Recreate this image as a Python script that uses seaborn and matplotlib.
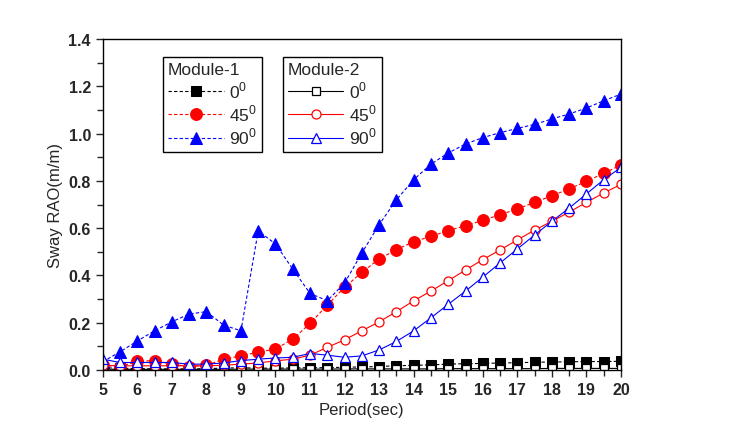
import matplotlib
matplotlib.use("Agg")
import matplotlib.pyplot as plt
import seaborn as sns
import numpy as np
from matplotlib.ticker import MultipleLocator

# Data
period = [5.0, 5.5, 6.0, 6.5, 7.0, 7.5, 8.0, 8.5, 9.0, 9.5, 10.0, 10.5, 11.0, 11.5, 12.0,
          12.5, 13.0, 13.5, 14.0, 14.5, 15.0, 15.5, 16.0, 16.5, 17.0, 17.5, 18.0, 18.5,
          19.0, 19.5, 20.0]

m1_0 = [0.010, 0.008, 0.006, 0.005, 0.005, 0.005, 0.006, 0.008, 0.010, 0.008, 0.008,
        0.009, 0.010, 0.010, 0.012, 0.013, 0.015, 0.018, 0.020, 0.022, 0.025, 0.027,
        0.028, 0.030, 0.031, 0.033, 0.034, 0.035, 0.036, 0.036, 0.037]
m1_45 = [0.020, 0.015, 0.037, 0.040, 0.025, 0.015, 0.020, 0.046, 0.060, 0.076, 0.089,
         0.131, 0.197, 0.275, 0.350, 0.413, 0.470, 0.509, 0.543, 0.565, 0.590, 0.610,
         0.633, 0.657, 0.681, 0.709, 0.737, 0.766, 0.798, 0.832, 0.867]
m1_90 = [0.035, 0.077, 0.123, 0.166, 0.204, 0.237, 0.247, 0.190, 0.166, 0.589, 0.533,
         0.427, 0.324, 0.293, 0.368, 0.495, 0.615, 0.720, 0.805, 0.871, 0.918, 0.956,
         0.983, 1.004, 1.022, 1.039, 1.062, 1.083, 1.108, 1.139, 1.167]

m2_0 = [0.004, 0.003, 0.003, 0.003, 0.003, 0.003, 0.003, 0.003, 0.004, 0.004, 0.004,
        0.004, 0.004, 0.004, 0.005, 0.005, 0.005, 0.005, 0.005, 0.005, 0.006, 0.006,
        0.006, 0.006, 0.006, 0.006, 0.007, 0.007, 0.007, 0.007, 0.007]
m2_45 = [0.020, 0.018, 0.018, 0.018, 0.018, 0.018, 0.018, 0.020, 0.025, 0.030, 0.039,
         0.046, 0.063, 0.096, 0.128, 0.166, 0.204, 0.247, 0.293, 0.334, 0.378, 0.423,
         0.467, 0.508, 0.550, 0.592, 0.629, 0.668, 0.709, 0.749, 0.785]
m2_90 = [0.046, 0.032, 0.032, 0.032, 0.032, 0.025, 0.025, 0.030, 0.040, 0.046, 0.051,
         0.054, 0.070, 0.063, 0.054, 0.060, 0.085, 0.121, 0.166, 0.221, 0.278, 0.334,
         0.393, 0.453, 0.512, 0.571, 0.629, 0.685, 0.745, 0.805, 0.857]

angle_labels = ["0$^0$", "45$^0$", "90$^0$"]

sns.set_style("ticks")
plt.rcParams['font.family'] = ['Liberation Sans', 'DejaVu Sans']
plt.rcParams['mathtext.fontset'] = 'custom'
plt.rcParams['mathtext.rm'] = 'Liberation Sans'

fig = plt.figure(figsize=(7.34, 4.35), dpi=100)
ax = fig.add_axes([0.140, 0.147, 0.706, 0.761])

blue = '#0000ff'
red = '#ff0000'

m1_styles = [(m1_0, 'black', 's', 6.5), (m1_45, red, 'o', 8.5), (m1_90, blue, '^', 8.5)]
m2_styles = [(m2_0, 'black', 's', 6), (m2_45, red, 'o', 6.5), (m2_90, blue, '^', 7)]

# Module-1: filled markers, dashed lines
h1 = []
for (vals, col, mk, ms), lab in zip(m1_styles, angle_labels):
    sns.lineplot(x=period, y=vals, ax=ax, color=col, marker=mk, markersize=ms,
                 linestyle='--', linewidth=0.8, markeredgecolor=col,
                 markerfacecolor=col, dashes=False)
    h1.append(ax.lines[-1])
    ax.lines[-1].set_linestyle((0, (3, 2)))

# Module-2: open markers, solid lines
h2 = []
for (vals, col, mk, ms), lab in zip(m2_styles, angle_labels):
    sns.lineplot(x=period, y=vals, ax=ax, color=col, marker=mk, markersize=ms,
                 linestyle='-', linewidth=0.8, markeredgecolor=col,
                 markerfacecolor='white', markeredgewidth=0.9)
    h2.append(ax.lines[-1])

ax.set_xlim(5, 20)
ax.set_ylim(0, 1.4)
ax.xaxis.set_major_locator(MultipleLocator(1))
ax.xaxis.set_minor_locator(MultipleLocator(0.5))
ax.yaxis.set_major_locator(MultipleLocator(0.2))
ax.yaxis.set_minor_locator(MultipleLocator(0.1))
ax.yaxis.set_major_formatter(matplotlib.ticker.FormatStrFormatter('%.1f'))
ax.tick_params(which='major', direction='out', length=5, width=1, labelsize=11.5)
ax.tick_params(which='minor', direction='out', length=4, width=1)
for lbl in ax.get_xticklabels() + ax.get_yticklabels():
    lbl.set_fontweight('bold')
for sp in ax.spines.values():
    sp.set_linewidth(1)
    sp.set_color('black')

ax.set_xlabel("Period(sec)", fontsize=12)
ax.set_ylabel("Sway RAO(m/m)", fontsize=12)

leg_kw = dict(loc='upper left', fontsize=12.5, title_fontsize=12.5, frameon=True,
              fancybox=False, edgecolor='black', framealpha=1, handlelength=3.2,
              handletextpad=0.3, borderpad=0.3, labelspacing=0.15,
              alignment='left', borderaxespad=0)
leg1 = ax.legend(h1, angle_labels, title="Module-1", bbox_to_anchor=(0.116, 0.946), **leg_kw)
leg1.get_frame().set_linewidth(1)
ax.add_artist(leg1)
leg2 = ax.legend(h2, angle_labels, title="Module-2", bbox_to_anchor=(0.347, 0.946), **leg_kw)
leg2.get_frame().set_linewidth(1)

fig.savefig("out.png", dpi=100)
